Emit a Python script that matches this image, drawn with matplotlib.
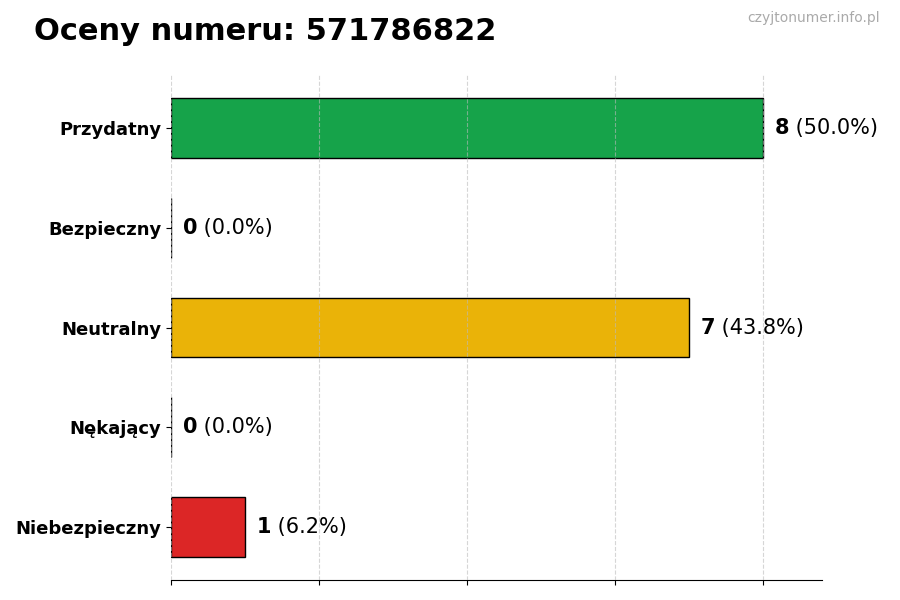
import matplotlib
matplotlib.use("Agg")
import matplotlib.pyplot as plt

categories = ["Przydatny", "Bezpieczny", "Neutralny", "Nękający", "Niebezpieczny"]
counts = [8, 0, 7, 0, 1]
colors = ["#16a34a", "#6b7280", "#eab308", "#f97316", "#dc2626"]
number = "571786822"

total = sum(counts)
ypos = list(range(len(categories)))[::-1]

fig = plt.figure(figsize=(9, 6), dpi=100)
ax = fig.add_axes([0.19, 0.0333, 0.723, 0.8417])

ax.barh(ypos, counts, height=0.6, color=colors, edgecolor="black", linewidth=1, zorder=2)
ax.set_xlim(0, max(counts) * 1.1)
ax.set_yticks(ypos)
ax.set_yticklabels(categories, fontsize=13, fontweight="bold")
ax.set_xticks([0, 2, 4, 6, 8])
ax.set_xticklabels([])
ax.grid(axis="x", linestyle="--", color="#bbbbbb", linewidth=0.8, alpha=0.6, zorder=3)
ax.set_axisbelow(False)
for s in ["top", "right", "left"]:
    ax.spines[s].set_visible(False)

off = max(counts) * 1.1 * 0.018
for y, c in zip(ypos, counts):
    pct = c / total * 100
    t = ax.annotate(str(c), (c + off, y), va="center", ha="left",
                    fontsize=15, fontweight="bold")
    ax.annotate(f" ({pct:.1f}%)", xycoords=t, xy=(1, 0.5), va="center", ha="left",
                fontsize=15)

fig.text(0.038, 0.948, f"Oceny numeru: {number}", fontsize=22, fontweight="bold", va="center")
fig.text(0.978, 0.97, "czyjtonumer.info.pl", fontsize=10, color="#aaaaaa", ha="right", va="center")

fig.savefig("out.png", dpi=100)
